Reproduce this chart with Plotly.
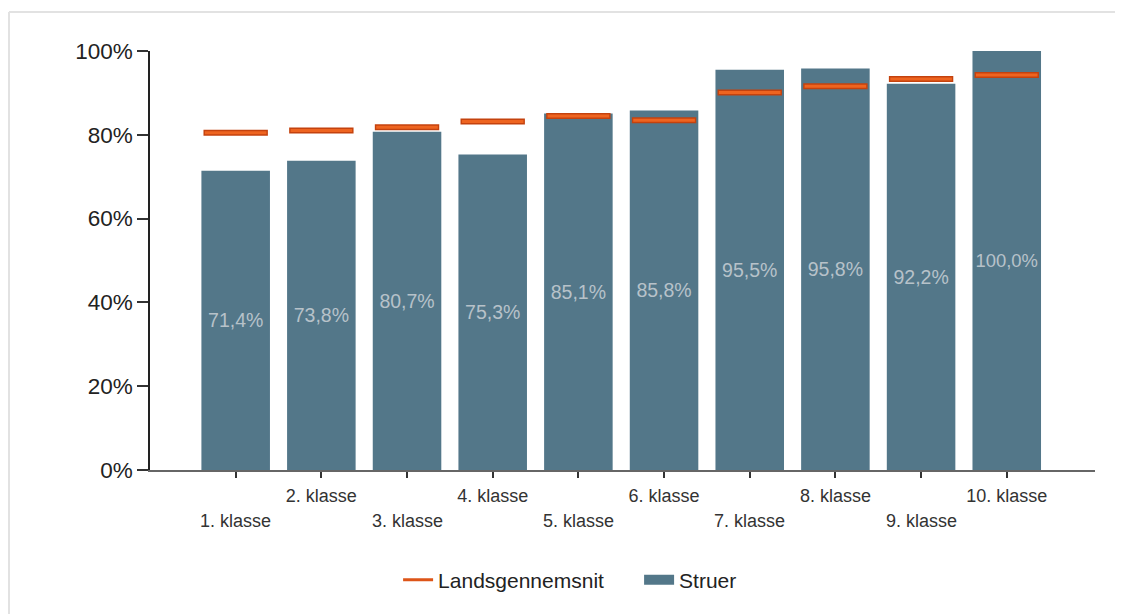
import plotly.graph_objects as go

categories = ["1. klasse", "2. klasse", "3. klasse", "4. klasse", "5. klasse",
              "6. klasse", "7. klasse", "8. klasse", "9. klasse", "10. klasse"]
struer = [71.4, 73.8, 80.7, 75.3, 85.1, 85.8, 95.5, 95.8, 92.2, 100.0]
landsgennemsnit = [80.5, 81.0, 81.8, 83.2, 84.5, 83.5, 90.1, 91.6, 93.3, 94.3]
y_ticks = [0, 20, 40, 60, 80, 100]

xpos = list(range(len(categories)))
upper_text = ["" if i % 2 == 0 else c for i, c in enumerate(categories)]
lower_vals = [i for i in xpos if i % 2 == 0]
lower_text = [categories[i] for i in lower_vals]
bar_labels = [f"{v:.1f}%".replace(".", ",") for v in struer]
y_ticktext = [f"{v}%" for v in y_ticks]

# page has an 8px body margin; figure sized accordingly
W, H = 1115, 606
ml, mr, mt, mb = 142, 28, 43, 144
pw, ph = W - ml - mr, H - mt - mb
BAR_COLOR = "#537789"
FONT = "Liberation Sans, Arial"
TICK_FONT = dict(size=18, color="#333", family=FONT)

fig = go.Figure()
fig.add_trace(go.Bar(
    x=xpos, y=struer, name="Struer", width=0.8, showlegend=False,
    marker=dict(color=BAR_COLOR, line=dict(width=0)),
    text=bar_labels, textposition="inside", insidetextanchor="middle",
    textfont=dict(color="#b7c2c9", size=19.5, family=FONT),
    textangle=0, hoverinfo="skip"))
fig.add_trace(go.Scatter(
    x=xpos, y=landsgennemsnit, mode="markers", showlegend=False,
    marker=dict(symbol="line-ew", size=46, line=dict(width=6, color="#c4420e"))))
fig.add_trace(go.Scatter(
    x=xpos, y=landsgennemsnit, mode="markers", showlegend=False,
    marker=dict(symbol="line-ew", size=44, line=dict(width=3, color="#ee6420"))))
# legend entries
fig.add_trace(go.Scatter(
    x=[None], y=[None], mode="lines", name="Landsgennemsnit",
    line=dict(color="#dd5518", width=3)))
fig.add_trace(go.Scatter(
    x=[None], y=[None], mode="lines", name="Struer",
    line=dict(color=BAR_COLOR, width=17)))

# lower row of category labels
for xv, txt in zip(lower_vals, lower_text):
    fig.add_annotation(x=xv, y=0, xref="x", yref="paper", text=txt,
                       showarrow=False, yanchor="middle", yshift=-51,
                       font=TICK_FONT)

def px_to_paper_x(px):
    return (px - ml) / pw

def px_to_paper_y(py):
    return (H - mb - py) / ph

frame_col = "#e2e2e2"
fig.add_shape(type="line", xref="paper", yref="paper",
              x0=px_to_paper_x(1), x1=px_to_paper_x(W),
              y0=px_to_paper_y(4), y1=px_to_paper_y(4),
              line=dict(color=frame_col, width=2))
fig.add_shape(type="line", xref="paper", yref="paper",
              x0=px_to_paper_x(1), x1=px_to_paper_x(1),
              y0=px_to_paper_y(4), y1=px_to_paper_y(H),
              line=dict(color=frame_col, width=2))

fig.update_layout(
    width=W, height=H,
    margin=dict(l=ml, r=mr, t=mt, b=mb, autoexpand=False),
    plot_bgcolor="white", paper_bgcolor="white",
    font=dict(family=FONT, color="#222"),
    legend=dict(orientation="h", xref="container", yref="container",
                x=0.566, xanchor="center", y=1 - 572 / H, yanchor="middle",
                font=dict(size=21, color="#222"), traceorder="normal",
                entrywidth=196),
    xaxis=dict(range=[-1.0, 10.03], tickmode="array", tickvals=xpos,
               ticktext=upper_text, showgrid=False, zeroline=False,
               showline=True, linecolor="#666", linewidth=2,
               ticks="outside", ticklen=6, tickcolor="#333", tickwidth=1.5,
               ticklabelstandoff=2, tickfont=TICK_FONT),
    yaxis=dict(range=[0, 100], tickmode="array", tickvals=y_ticks,
               ticktext=y_ticktext, showgrid=False, zeroline=False,
               showline=True, linecolor="#222", linewidth=1.5,
               ticks="outside", ticklen=11, tickcolor="#333", tickwidth=1.5,
               tickfont=dict(size=22.5, color="#222")),
)

fig.write_html("out.html")
